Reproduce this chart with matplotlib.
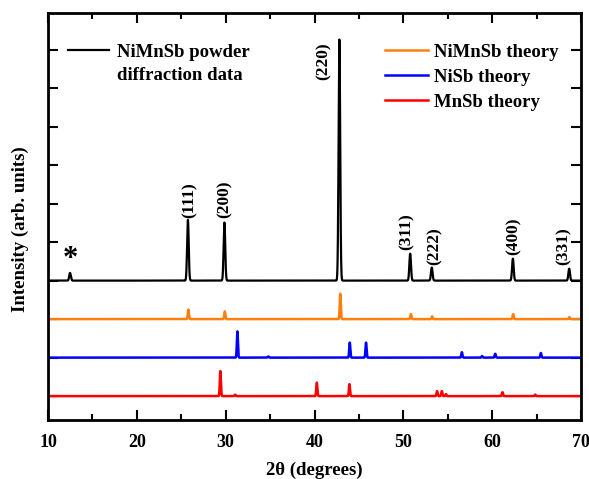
import numpy as np
import matplotlib
matplotlib.use("Agg")
import matplotlib.pyplot as plt
from matplotlib.ticker import MultipleLocator

plt.rcParams['font.family'] = ['Liberation Serif', 'DejaVu Serif']
plt.rcParams['font.weight'] = 'bold'

# peak positions (2theta, deg) and heights (arb. units)
exp_pos = [12.48, 25.75, 29.86, 42.8, 50.77, 53.2, 62.33, 68.67]
exp_h = [0.2, 1.58, 1.51, 6.26, 0.70, 0.34, 0.57, 0.31]
exp_hkl = ["", "(111)", "(200)", "(220)", "(311)", "(222)", "(400)", "(331)"]

nimnsb_pos = [25.8, 29.9, 42.9, 50.85, 53.24, 62.36, 68.7]
nimnsb_h = [0.25, 0.2, 0.66, 0.13, 0.07, 0.13, 0.05]

nisb_pos = [31.32, 34.8, 43.97, 45.8, 56.59, 58.87, 60.34, 65.48]
nisb_h = [0.68, 0.03, 0.39, 0.39, 0.14, 0.04, 0.1, 0.12]

mnsb_pos = [29.4, 31.06, 40.26, 43.93, 53.8, 54.33, 54.8, 61.16, 64.85]
mnsb_h = [0.65, 0.04, 0.35, 0.31, 0.13, 0.13, 0.05, 0.1, 0.04]

# vertical offsets of the stacked patterns
offsets = {"exp": 3.0, "nimnsb": 2.0, "nisb": 1.0, "mnsb": 0.0}

# hkl label anchors (x, bottom y)
lab_x = [None, 25.9, 29.9, 41.0, 50.4, 53.5, 62.4, 68.0]
lab_y = [None, 4.62, 4.62, 8.2, 3.79, 3.40, 3.66, 3.40]


def pattern(x, pos, h, w):
    y = np.zeros_like(x)
    for p, a in zip(pos, h):
        y += a * np.exp(-0.5 * ((x - p) / w) ** 2)
    return y


x = np.arange(10, 70.001, 0.01)

fig = plt.figure(figsize=(5.89, 4.79), dpi=100)
ax = fig.add_axes([48 / 589, (479 - 420) / 479, 533 / 589, 407 / 479])

ax.plot(x, offsets["exp"] + pattern(x, exp_pos, exp_h, 0.09), color="black", lw=1.6,
        label="NiMnSb powder")
ax.plot(x, offsets["nimnsb"] + pattern(x, nimnsb_pos, nimnsb_h, 0.06), color="#ff7f0e", lw=1.8,
        label="NiMnSb theory")
ax.plot(x, offsets["nisb"] + pattern(x, nisb_pos, nisb_h, 0.06), color="#0000ff", lw=1.8,
        label="NiSb theory")
ax.plot(x, offsets["mnsb"] + pattern(x, mnsb_pos, mnsb_h, 0.06), color="#ff0000", lw=1.8,
        label="MnSb theory")

for lx, ly, t in zip(lab_x, lab_y, exp_hkl):
    if t:
        ax.text(lx, ly, t, rotation=90, ha="center", va="bottom", fontsize=12.5, fontweight="bold")
ax.text(12.5, 3.55, "*", ha="center", va="center", fontsize=22, fontweight="bold")

ax.set_xlim(10, 70)
ax.set_ylim(-0.62, 9.95)
ax.xaxis.set_major_locator(MultipleLocator(10))
ax.xaxis.set_minor_locator(MultipleLocator(5))
ax.yaxis.set_major_locator(MultipleLocator(1))
ax.set_yticklabels([])
ax.tick_params(which="both", direction="in", top=True, right=True, width=1.5)
ax.tick_params(which="major", length=7, labelsize=13, pad=10)
ax.tick_params(which="minor", length=4)
for lab in ax.get_xticklabels():
    lab.set_fontweight("bold")
for s in ax.spines.values():
    s.set_linewidth(2)

ax.set_xlabel("2θ (degrees)", fontsize=13.5, fontweight="bold", labelpad=8)
ax.set_ylabel("Intensity (arb. units)", fontsize=13.5, fontweight="bold")
ax.yaxis.set_label_coords(-0.035, 0.47)

h, l = ax.get_legend_handles_labels()
leg1 = ax.legend(h[:1], l[:1], loc="upper left", bbox_to_anchor=(0.0375, 0.925), frameon=False,
                 fontsize=13.5, borderpad=0, borderaxespad=0, handlelength=2.2, handletextpad=0.4)
ax.add_artist(leg1)
ax.text(117, 479 - 75, "diffraction data", transform=None, fontsize=13.5, fontweight="bold",
        va="center", ha="left")
ax.legend(h[1:], l[1:], loc="upper left", bbox_to_anchor=(0.632, 0.925), frameon=False,
          fontsize=13.5, borderpad=0, borderaxespad=0, handlelength=2.3, handletextpad=0.3,
          labelspacing=0.42)

fig.savefig("out.png", dpi=100)
